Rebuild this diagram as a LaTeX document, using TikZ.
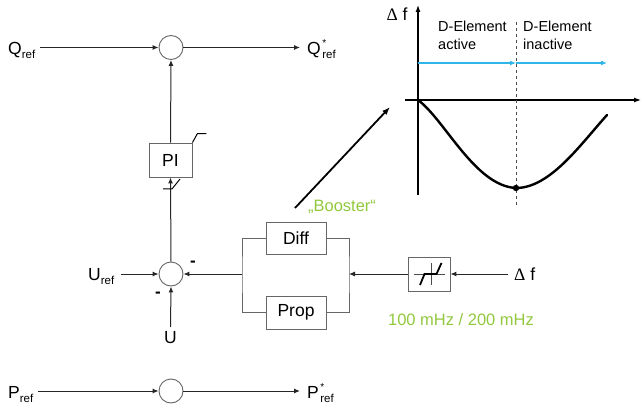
\documentclass[tikz,border=0pt]{standalone}
\usepackage{fontspec}
\setmainfont{Liberation Sans}
\newfontfamily\deltafont{Liberation Serif}
\usetikzlibrary{arrows.meta}
\definecolor{boostgreen}{HTML}{92C83E}
\definecolor{arrowcyan}{HTML}{2FB6E8}
\newcommand{\sublbl}[1]{#1\raisebox{-4pt}{\fontsize{11.5}{12}\selectfont ref}}
\newcommand{\starlbl}[1]{#1\kern1.5pt\rlap{\raisebox{8pt}{\fontsize{10}{10}\selectfont *}}\raisebox{-4pt}{\fontsize{11.5}{12}\selectfont ref}}
\begin{document}
\begin{tikzpicture}[x=1pt,y=-1pt,
  lbl/.style={inner sep=0pt, font=\fontsize{17.5}{20}\selectfont},
  sumnode/.style={circle, draw=black!60, line width=0.9pt, minimum size=24pt, inner sep=0pt},
  blockbox/.style={draw=black!60, line width=0.9pt, inner sep=0pt, font=\fontsize{17.5}{20}\selectfont},
  conn/.style={draw=black!85, line width=1pt, -{Latex[length=6pt,width=5pt]}},
  wire/.style={draw=black!60, line width=1pt},
  symline/.style={draw=black, line width=1pt},
  greenlbl/.style={inner sep=0pt, text=boostgreen, font=\fontsize{16.5}{20}\selectfont},
  graphlbl/.style={inner sep=0pt, font=\fontsize{14.5}{18}\selectfont, align=left},
  axis/.style={draw=black, line width=1.2pt, -{Latex[length=7pt,width=5pt]}},
  cyanarrow/.style={draw=arrowcyan, line width=1.2pt, -{Latex[length=6pt,width=5pt]}}
]
\useasboundingbox (0,0) rectangle (642,406);

% ---- Q row ----
\node[sumnode] (sQ) at (171,47.5) {};
\node[lbl, anchor=base west] (Qref) at (8,55) {\sublbl{Q}};
\node[lbl, anchor=base west] (Qout) at (307,55) {\starlbl{Q}};
\draw[conn] ([xshift=5pt]Qref.east |- sQ) -- (sQ.west);
\draw[conn] (sQ.east) -- ([xshift=-7pt]Qout.west |- sQ);

% ---- PI block ----
\node[blockbox, minimum width=43pt, minimum height=34pt] (PI) at (170.5,160) {PI};
\draw[symline] (PI.north east) -- ++(5,-9) -- ++(9,0);
\draw[conn] (PI.north) -- (sQ.south);

% ---- U row ----
\node[sumnode] (sU) at (171,274) {};
\node[lbl, anchor=base west] (Uref) at (88,280) {\sublbl{U}};
\node[lbl, anchor=base] (U) at (170.5,343) {U};
\draw[conn] ([xshift=7pt]Uref.east |- sU) -- (sU.west);
\draw[conn] (U.north |- 0,327) -- (sU.south);
\draw[conn] (sU.north) -- (PI.south);
\draw[symline] (163,189) -- (172,189) -- (180,179);
\node[lbl, font=\bfseries\fontsize{17}{20}\selectfont] (m1) at (193,264) {-};
\node[lbl, font=\bfseries\fontsize{17}{20}\selectfont] (m2) at (158,295) {-};

% ---- Diff / Prop ----
\node[blockbox, minimum width=60pt, minimum height=32pt] (Diff) at (296,238) {Diff};
\node[blockbox, minimum width=60pt, minimum height=33pt] (Prop) at (296,312.5) {Prop};
\coordinate (bl) at (242,274);
\coordinate (br) at (349,274);
\draw[wire] (Diff.west) -| (bl) |- (Prop.west);
\draw[wire] (Diff.east) -| (br) |- (Prop.east);
\draw[conn] (bl) -- (sU.east);

% ---- dead band ----
\node[blockbox, minimum width=42pt, minimum height=34pt] (DB) at (429,274) {};
\draw[draw=black!70, line width=0.8pt] (414,274) -- (445,274);
\draw[draw=black!70, line width=0.8pt] (431,263) -- (431,285);
\draw[draw=black, line width=1.8pt] (420,285) -- (424.5,274) -- (436.5,274) -- (441.5,263);
\draw[conn] (DB.west) -- (br);
\node[lbl, anchor=base west] (df) at (514,280) {{\deltafont Δ} f};
\draw[conn] ([xshift=-6pt]df.west |- DB) -- (DB.east);
\node[greenlbl] (mhz) at (461,320) {100 mHz / 200 mHz};

% ---- P row ----
\node[sumnode] (sP) at (171,391) {};
\node[lbl, anchor=base west] (Pref) at (8,398) {\sublbl{P}};
\node[lbl, anchor=base west] (Pout) at (307,398) {\starlbl{P}};
\draw[conn] ([xshift=5pt]Pref.east |- sP) -- (sP.west);
\draw[conn] (sP.east) -- ([xshift=-7pt]Pout.west |- sP);

% ---- Booster ----
\node[greenlbl] (boost) at (342,207) {„Booster“};
\coordinate (bstart) at (295,208);
\coordinate (bend) at (390,107);
\draw[draw=black, line width=1.8pt, -{Latex[length=8pt,width=6pt]}] (bstart) -- (bend);

% ---- graph ----
\draw[axis] (418,195) -- (418,5);
\draw[axis] (405,100) -- (641,100);
\node[lbl, anchor=base] (dfg) at (397,21) {{\deltafont Δ} f};
\node[graphlbl, anchor=north west] (act) at (438,21) {D-Element\\active};
\node[graphlbl, anchor=north west] (inact) at (523,21) {D-Element\\inactive};
\draw[draw=black!70, line width=0.8pt, dashed] (516,22) -- (516,205);
\draw[cyanarrow] (418,63) -- (516,63);
\draw[cyanarrow] (516,63) -- (607,63);
\draw[draw=black, line width=2.4pt, line cap=round] (418,100) .. controls (445,120) and (475,186) .. (516,188) .. controls (550,188) and (580,145) .. (607,115);
\fill (516,188) circle (3.2pt);
\end{tikzpicture}
\end{document}
